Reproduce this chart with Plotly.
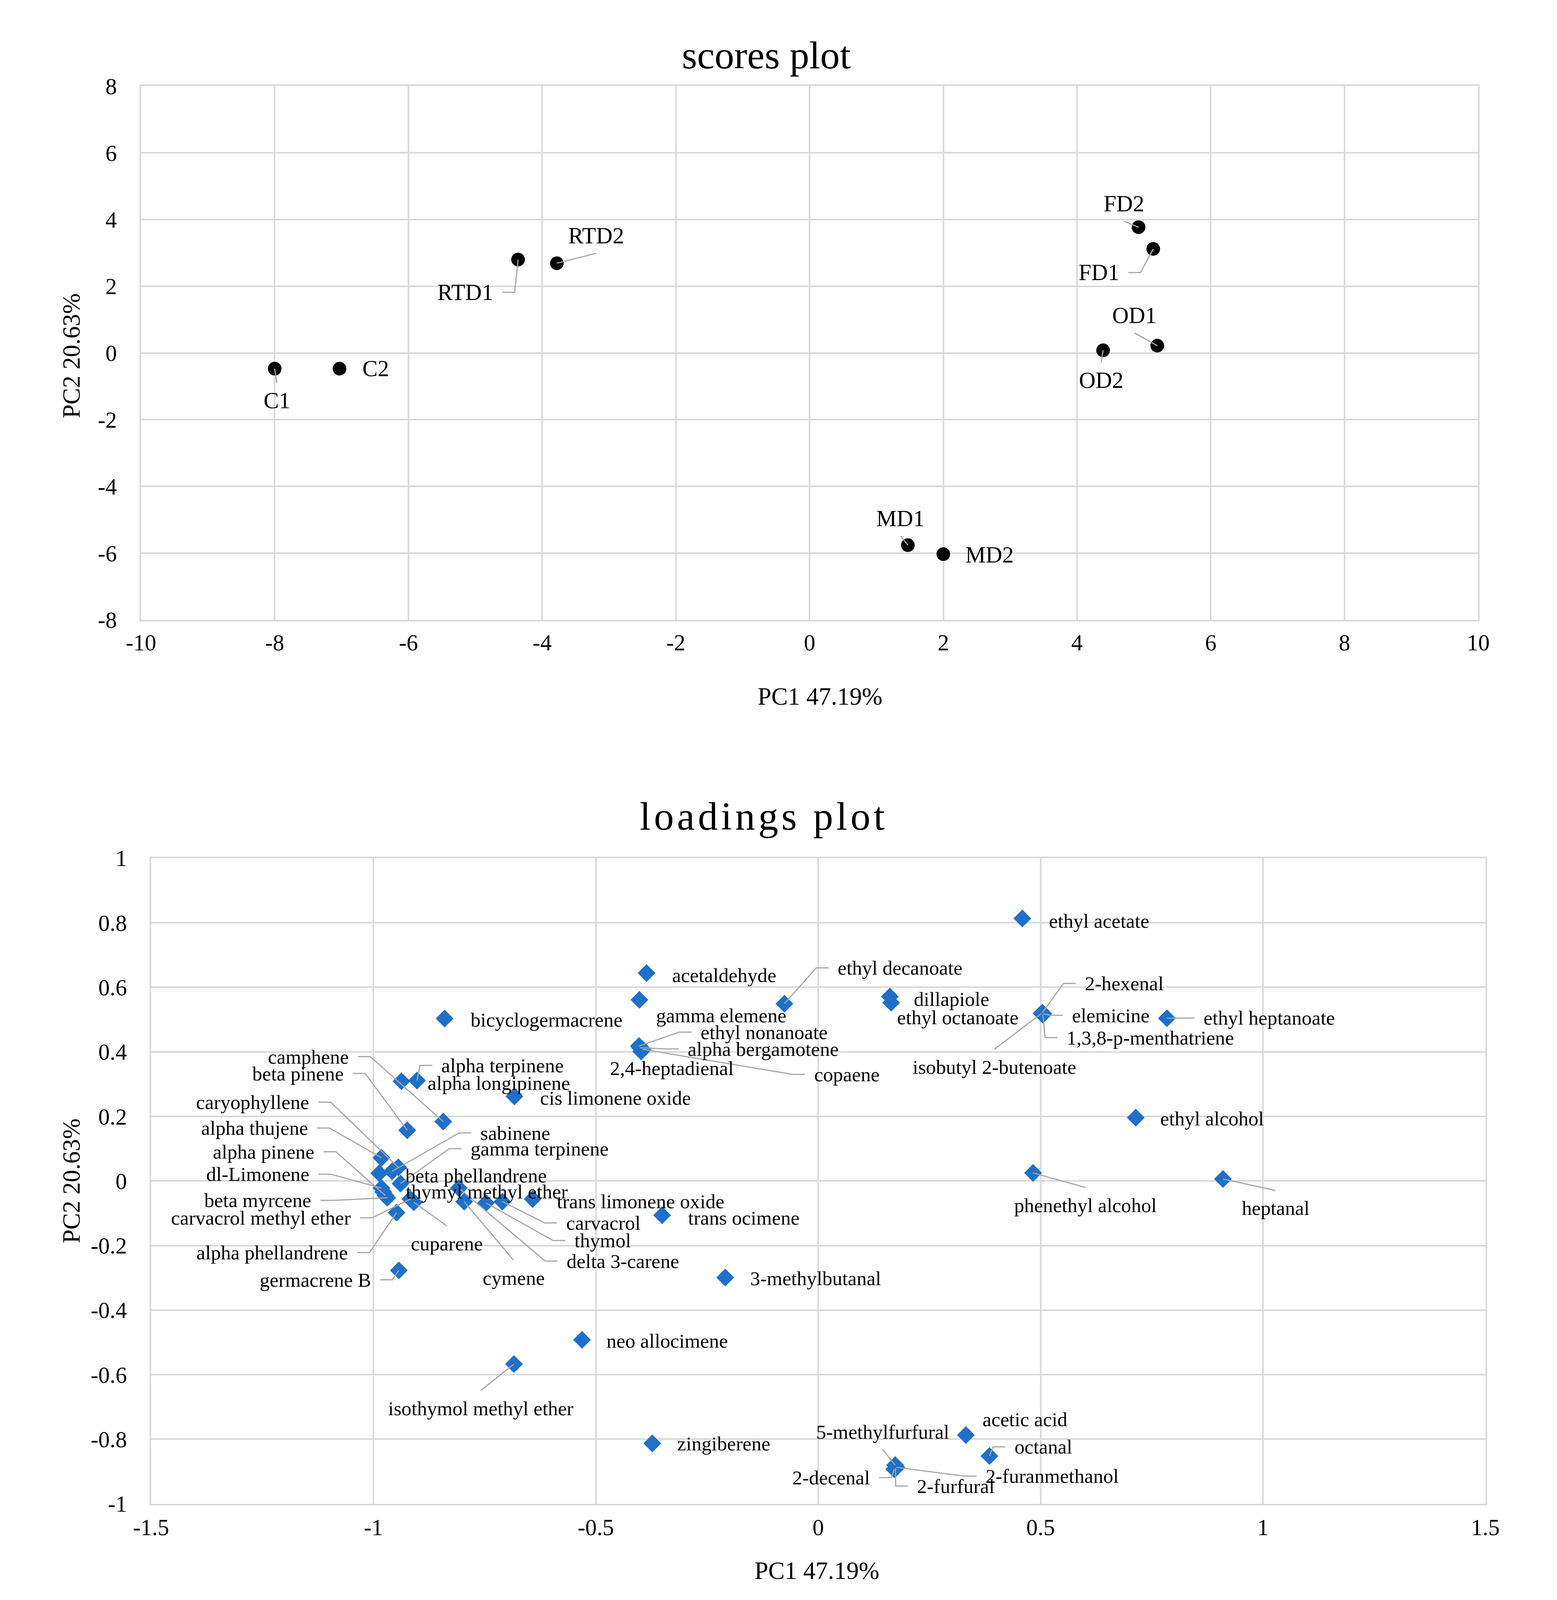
import plotly.graph_objects as go

# **** Scores (PC1 / PC2)
score_names = ["C1", "C2", "RTD1", "RTD2", "FD2", "FD1", "OD1", "OD2", "MD1", "MD2"]
score_pc1 = [-8.0, -7.03, -4.36, -3.78, 4.92, 5.14, 5.20, 4.39, 1.47, 2.0]
score_pc2 = [-0.47, -0.47, 2.80, 2.69, 3.77, 3.12, 0.22, 0.08, -5.76, -6.03]

# **** Loadings (PC1 / PC2)
loading_names = [
    "ethyl acetate", "acetaldehyde", "ethyl decanoate", "dillapiole", "ethyl octanoate",
    "2-hexenal", "elemicine", "ethyl heptanoate", "1,3,8-p-menthatriene", "isobutyl 2-butenoate",
    "gamma elemene", "bicyclogermacrene", "ethyl nonanoate", "alpha bergamotene", "2,4-heptadienal",
    "copaene", "camphene", "beta pinene", "alpha terpinene", "alpha longipinene",
    "cis limonene oxide", "caryophyllene", "alpha thujene", "sabinene", "gamma terpinene",
    "alpha pinene", "beta phellandrene", "dl-Limonene", "thymyl methyl ether", "trans limonene oxide",
    "beta myrcene", "carvacrol methyl ether", "carvacrol", "trans ocimene", "thymol",
    "alpha phellandrene", "cuparene", "delta 3-carene", "germacrene B", "cymene",
    "3-methylbutanal", "ethyl alcohol", "phenethyl alcohol", "heptanal", "neo allocimene",
    "isothymol methyl ether", "zingiberene", "acetic acid", "5-methylfurfural", "octanal",
    "2-decenal", "2-furanmethanol", "2-furfural"]
loading_pc1 = [
    0.459, -0.386, -0.076, 0.161, 0.164,
    0.504, 0.506, 0.784, 0.505, 0.502,
    -0.402, -0.840, -0.403, -0.401, -0.398,
    -0.395, -0.843, -0.924, -0.902, -0.937,
    -0.683, -0.944, -0.982, -0.958, -0.939,
    -0.973, -0.987, -0.982, -0.978, -0.642,
    -0.969, -0.917, -0.710, -0.351, -0.747,
    -0.948, -0.909, -0.808, -0.943, -0.796,
    -0.209, 0.714, 0.483, 0.910, -0.531,
    -0.684, -0.373, 0.332, 0.173, 0.385,
    0.171, 0.176, 0.174]
loading_pc2 = [
    0.813, 0.644, 0.549, 0.571, 0.552,
    0.521, 0.518, 0.504, 0.515, 0.519,
    0.561, 0.503, 0.418, 0.413, 0.401,
    0.408, 0.184, 0.157, 0.311, 0.309,
    0.262, 0.042, 0.072, 0.030, -0.008,
    -0.045, 0.024, -0.022, -0.034, -0.056,
    -0.052, -0.056, -0.064, -0.106, -0.068,
    -0.098, -0.066, -0.022, -0.277, -0.064,
    -0.299, 0.196, 0.025, 0.006, -0.492,
    -0.567, -0.813, -0.787, -0.880, -0.852,
    -0.893, -0.887, -0.890]

# **** Ticks
score_xticks = [-10, -8, -6, -4, -2, 0, 2, 4, 6, 8, 10]
score_yticks = [-8, -6, -4, -2, 0, 2, 4, 6, 8]
loading_xticks = [-1.5, -1, -0.5, 0, 0.5, 1, 1.5]
loading_xtext = ["-1.5", "-1", "-0.5", "0", "0.5", "1", "1.5"]
loading_yticks = [-1, -0.8, -0.6, -0.4, -0.2, 0, 0.2, 0.4, 0.6, 0.8, 1]
loading_ytext = ["-1", "-0.8", "-0.6", "-0.4", "-0.2", "0", "0.2", "0.4", "0.6", "0.8", "1"]

# **** Label placement: name -> (x, y, anchor, leader side)
score_label_pos = {
    "C1": (-7.97, -1.43, "center", "B"), "C2": (-6.70, -0.47, "left", None),
    "RTD1": (-4.72, 1.82, "right", "L"), "RTD2": (-3.19, 3.52, "center", "T"),
    "FD2": (4.70, 4.48, "center", "T"), "FD1": (4.64, 2.41, "right", "L"),
    "OD1": (4.86, 1.13, "center", "T"), "OD2": (4.36, -0.82, "center", "B"),
    "MD1": (1.36, -4.96, "center", "T"), "MD2": (2.32, -6.05, "left", None),
}
loading_label_pos = {
    "ethyl acetate": (0.517, 0.806, "left", None),
    "acetaldehyde": (-0.330, 0.637, "left", None),
    "ethyl decanoate": (0.042, 0.660, "left", "R"),
    "dillapiole": (0.213, 0.563, "left", None),
    "ethyl octanoate": (0.175, 0.507, "left", None),
    "2-hexenal": (0.598, 0.612, "left", "R"),
    "elemicine": (0.569, 0.513, "left", "R"),
    "ethyl heptanoate": (0.865, 0.505, "left", "R"),
    "1,3,8-p-menthatriene": (0.5565, 0.444, "left", "R"),
    "isobutyl 2-butenoate": (0.396, 0.353, "center", "B"),
    "gamma elemene": (-0.366, 0.513, "left", None),
    "bicyclogermacrene": (-0.783, 0.500, "left", None),
    "ethyl nonanoate": (-0.266, 0.461, "left", "R"),
    "alpha bergamotene": (-0.295, 0.409, "left", "R"),
    "2,4-heptadienal": (-0.470, 0.349, "left", None),
    "copaene": (-0.011, 0.330, "left", "R"),
    "camphene": (-1.0535, 0.385, "right", "L"),
    "beta pinene": (-1.065, 0.333, "right", "L"),
    "alpha terpinene": (-0.849, 0.358, "left", "R"),
    "alpha longipinene": (-0.880, 0.3035, "left", None),
    "cis limonene oxide": (-0.627, 0.257, "left", None),
    "caryophyllene": (-1.1425, 0.244, "right", "L"),
    "alpha thujene": (-1.1453, 0.164, "right", "L"),
    "sabinene": (-0.761, 0.149, "left", "R"),
    "gamma terpinene": (-0.783, 0.100, "left", "R"),
    "alpha pinene": (-1.131, 0.0905, "right", "L"),
    "beta phellandrene": (-0.930, 0.017, "left", None),
    "dl-Limonene": (-1.1426, 0.021, "right", "L"),
    "thymyl methyl ether": (-0.9287, -0.033, "left", None),
    "trans limonene oxide": (-0.589, -0.063, "left", None),
    "beta myrcene": (-1.1378, -0.060, "right", "L"),
    "carvacrol methyl ether": (-1.049, -0.114, "right", "L"),
    "carvacrol": (-0.5685, -0.130, "left", "R"),
    "trans ocimene": (-0.294, -0.114, "left", None),
    "thymol": (-0.5497, -0.1845, "left", "R"),
    "alpha phellandrene": (-1.0553, -0.2216, "right", "L"),
    "cuparene": (-0.835, -0.194, "center", "B"),
    "delta 3-carene": (-0.5675, -0.248, "left", "R"),
    "germacrene B": (-1.0037, -0.306, "right", "L"),
    "cymene": (-0.685, -0.300, "center", "B"),
    "3-methylbutanal": (-0.155, -0.301, "left", None),
    "ethyl alcohol": (0.767, 0.193, "left", None),
    "phenethyl alcohol": (0.601, -0.075, "center", "B"),
    "heptanal": (1.028, -0.084, "center", "B"),
    "neo allocimene": (-0.478, -0.495, "left", None),
    "isothymol methyl ether": (-0.759, -0.704, "center", "B"),
    "zingiberene": (-0.319, -0.813, "left", None),
    "acetic acid": (0.368, -0.738, "left", None),
    "5-methylfurfural": (0.145, -0.777, "center", "T"),
    "octanal": (0.4395, -0.8235, "left", "R"),
    "2-decenal": (0.118, -0.919, "right", "L"),
    "2-furanmethanol": (0.375, -0.914, "left", "R"),
    "2-furfural": (0.2205, -0.945, "left", "R"),
}

# **** Geometry
# positions were measured on the 3987x4895 original; the browser screen here
# is only 4096 px tall, so the page is drawn at that height and y scales down
W, REF_H = 3987, 4895
H = 4096
FS = 0.93  # text shrink to keep the squeezed labels apart
FONT = "Liberation Serif"
score_xrange, score_yrange = [-10, 10], [-8, 8]
loading_xrange, loading_yrange = [-1.5, 1.5], [-1, 1]
score_xdom = [321.7 / W, 3818.7 / W]
score_ydom = [1 - 1889.3 / REF_H, 1 - 230 / REF_H]
loading_xdom = [348 / W, 3837.5 / W]
loading_ydom = [1 - 4637.3 / REF_H, 1 - 2630 / REF_H]
grid_color = "#d9d9d9"
leader_color = "#a6a6a6"


def px_per_unit(dom, rng, size):
    return (dom[1] - dom[0]) * size / (rng[1] - rng[0])


def leader_paths(names, xs, ys, label_pos, ux, uy, gap=22, seg=32, voff=46):
    lx, ly = [], []
    for name, x, y in zip(names, xs, ys):
        tx, ty, anchor, side = label_pos[name]
        if side is None:
            continue
        if side == "L":
            path = [(x, y), (tx + (gap + seg) / ux, ty), (tx + gap / ux, ty)]
        elif side == "R":
            path = [(x, y), (tx - (gap + seg) / ux, ty), (tx - gap / ux, ty)]
        elif side == "T":
            path = [(x, y), (tx, ty - voff / uy)]
        else:
            path = [(x, y), (tx, ty + voff / uy)]
        for px, py in path:
            lx.append(px)
            ly.append(py)
        lx.append(None)
        ly.append(None)
    return lx, ly


fig = go.Figure()

# scores
fig.add_trace(go.Scatter(
    x=score_pc1, y=score_pc2, mode="markers", xaxis="x", yaxis="y",
    marker=dict(symbol="circle", size=35, color="black"),
    hoverinfo="skip", showlegend=False))
sx, sy = leader_paths(score_names, score_pc1, score_pc2, score_label_pos,
                      px_per_unit(score_xdom, score_xrange, W),
                      px_per_unit(score_ydom, score_yrange, H))
fig.add_trace(go.Scatter(
    x=sx, y=sy, mode="lines", xaxis="x", yaxis="y",
    line=dict(color=leader_color, width=3), hoverinfo="skip", showlegend=False))

# loadings
fig.add_trace(go.Scatter(
    x=loading_pc1, y=loading_pc2, mode="markers", xaxis="x2", yaxis="y2",
    marker=dict(symbol="diamond", size=35, color="#1f70c8"),
    hoverinfo="skip", showlegend=False))
lx, ly = leader_paths(loading_names, loading_pc1, loading_pc2, loading_label_pos,
                      px_per_unit(loading_xdom, loading_xrange, W),
                      px_per_unit(loading_ydom, loading_yrange, H))
fig.add_trace(go.Scatter(
    x=lx, y=ly, mode="lines", xaxis="x2", yaxis="y2",
    line=dict(color=leader_color, width=3), hoverinfo="skip", showlegend=False))

annotations = []
for name in score_names:
    tx, ty, anchor, side = score_label_pos[name]
    annotations.append(dict(x=tx, y=ty, xref="x", yref="y", text=name, showarrow=False,
                            xanchor=anchor, yanchor="middle",
                            font=dict(family=FONT, size=63 * FS, color="black")))
for name in loading_names:
    tx, ty, anchor, side = loading_label_pos[name]
    annotations.append(dict(x=tx, y=ty, xref="x2", yref="y2", text=name, showarrow=False,
                            xanchor=anchor, yanchor="middle",
                            font=dict(family=FONT, size=55 * FS, color="black")))

# titles and axis titles
for text, x, y, size in [("scores plot", 1957, 134, 108),
                         ('<span style="letter-spacing:8px">loadings plot</span>', 1950, 2500, 110),
                         ("PC1 47.19%", 2098, 2128, 68),
                         ("PC1 47.19%", 2090, 4845, 68)]:
    annotations.append(dict(x=x / W, y=1 - y / REF_H, xref="paper", yref="paper", text=text,
                            showarrow=False, xanchor="center", yanchor="middle",
                            font=dict(family=FONT, size=size * FS, color="black")))
for y in [1068, 3633]:
    annotations.append(dict(x=140 / W, y=1 - y / REF_H, xref="paper", yref="paper",
                            text="PC2 20.63%", textangle=-90, showarrow=False,
                            xanchor="center", yanchor="middle",
                            font=dict(family=FONT, size=68 * FS, color="black")))

axis_common = dict(showgrid=True, gridcolor=grid_color, gridwidth=4, zeroline=False,
                   showline=True, linecolor=grid_color, linewidth=4, mirror=True,
                   ticks="", tickfont=dict(family=FONT, size=63 * FS, color="black"),
                   fixedrange=True)

fig.update_layout(
    width=W, height=H, autosize=False,
    margin=dict(l=0, r=0, t=0, b=0),
    paper_bgcolor="white", plot_bgcolor="white",
    font=dict(family=FONT, color="black"),
    showlegend=False,
    xaxis=dict(axis_common, domain=score_xdom, range=score_xrange, anchor="y",
               tickmode="array", tickvals=score_xticks,
               ticktext=[str(v) for v in score_xticks], ticklabelstandoff=4),
    yaxis=dict(axis_common, domain=score_ydom, range=score_yrange, anchor="x",
               tickmode="array", tickvals=score_yticks,
               ticktext=[str(v) for v in score_yticks], ticklabelstandoff=46),
    xaxis2=dict(axis_common, domain=loading_xdom, range=loading_xrange, anchor="y2",
                tickmode="array", tickvals=loading_xticks, ticktext=loading_xtext,
                ticklabelstandoff=6),
    yaxis2=dict(axis_common, domain=loading_ydom, range=loading_yrange, anchor="x2",
                tickmode="array", tickvals=loading_yticks, ticktext=loading_ytext,
                ticklabelstandoff=46),
    annotations=annotations,
)

# drop the default body margin so the figure sits at the page corner
fig.write_html("out.html", config={"displayModeBar": False},
               post_script="document.body.style.margin='0';"
                           "document.documentElement.style.overflow='hidden';")
